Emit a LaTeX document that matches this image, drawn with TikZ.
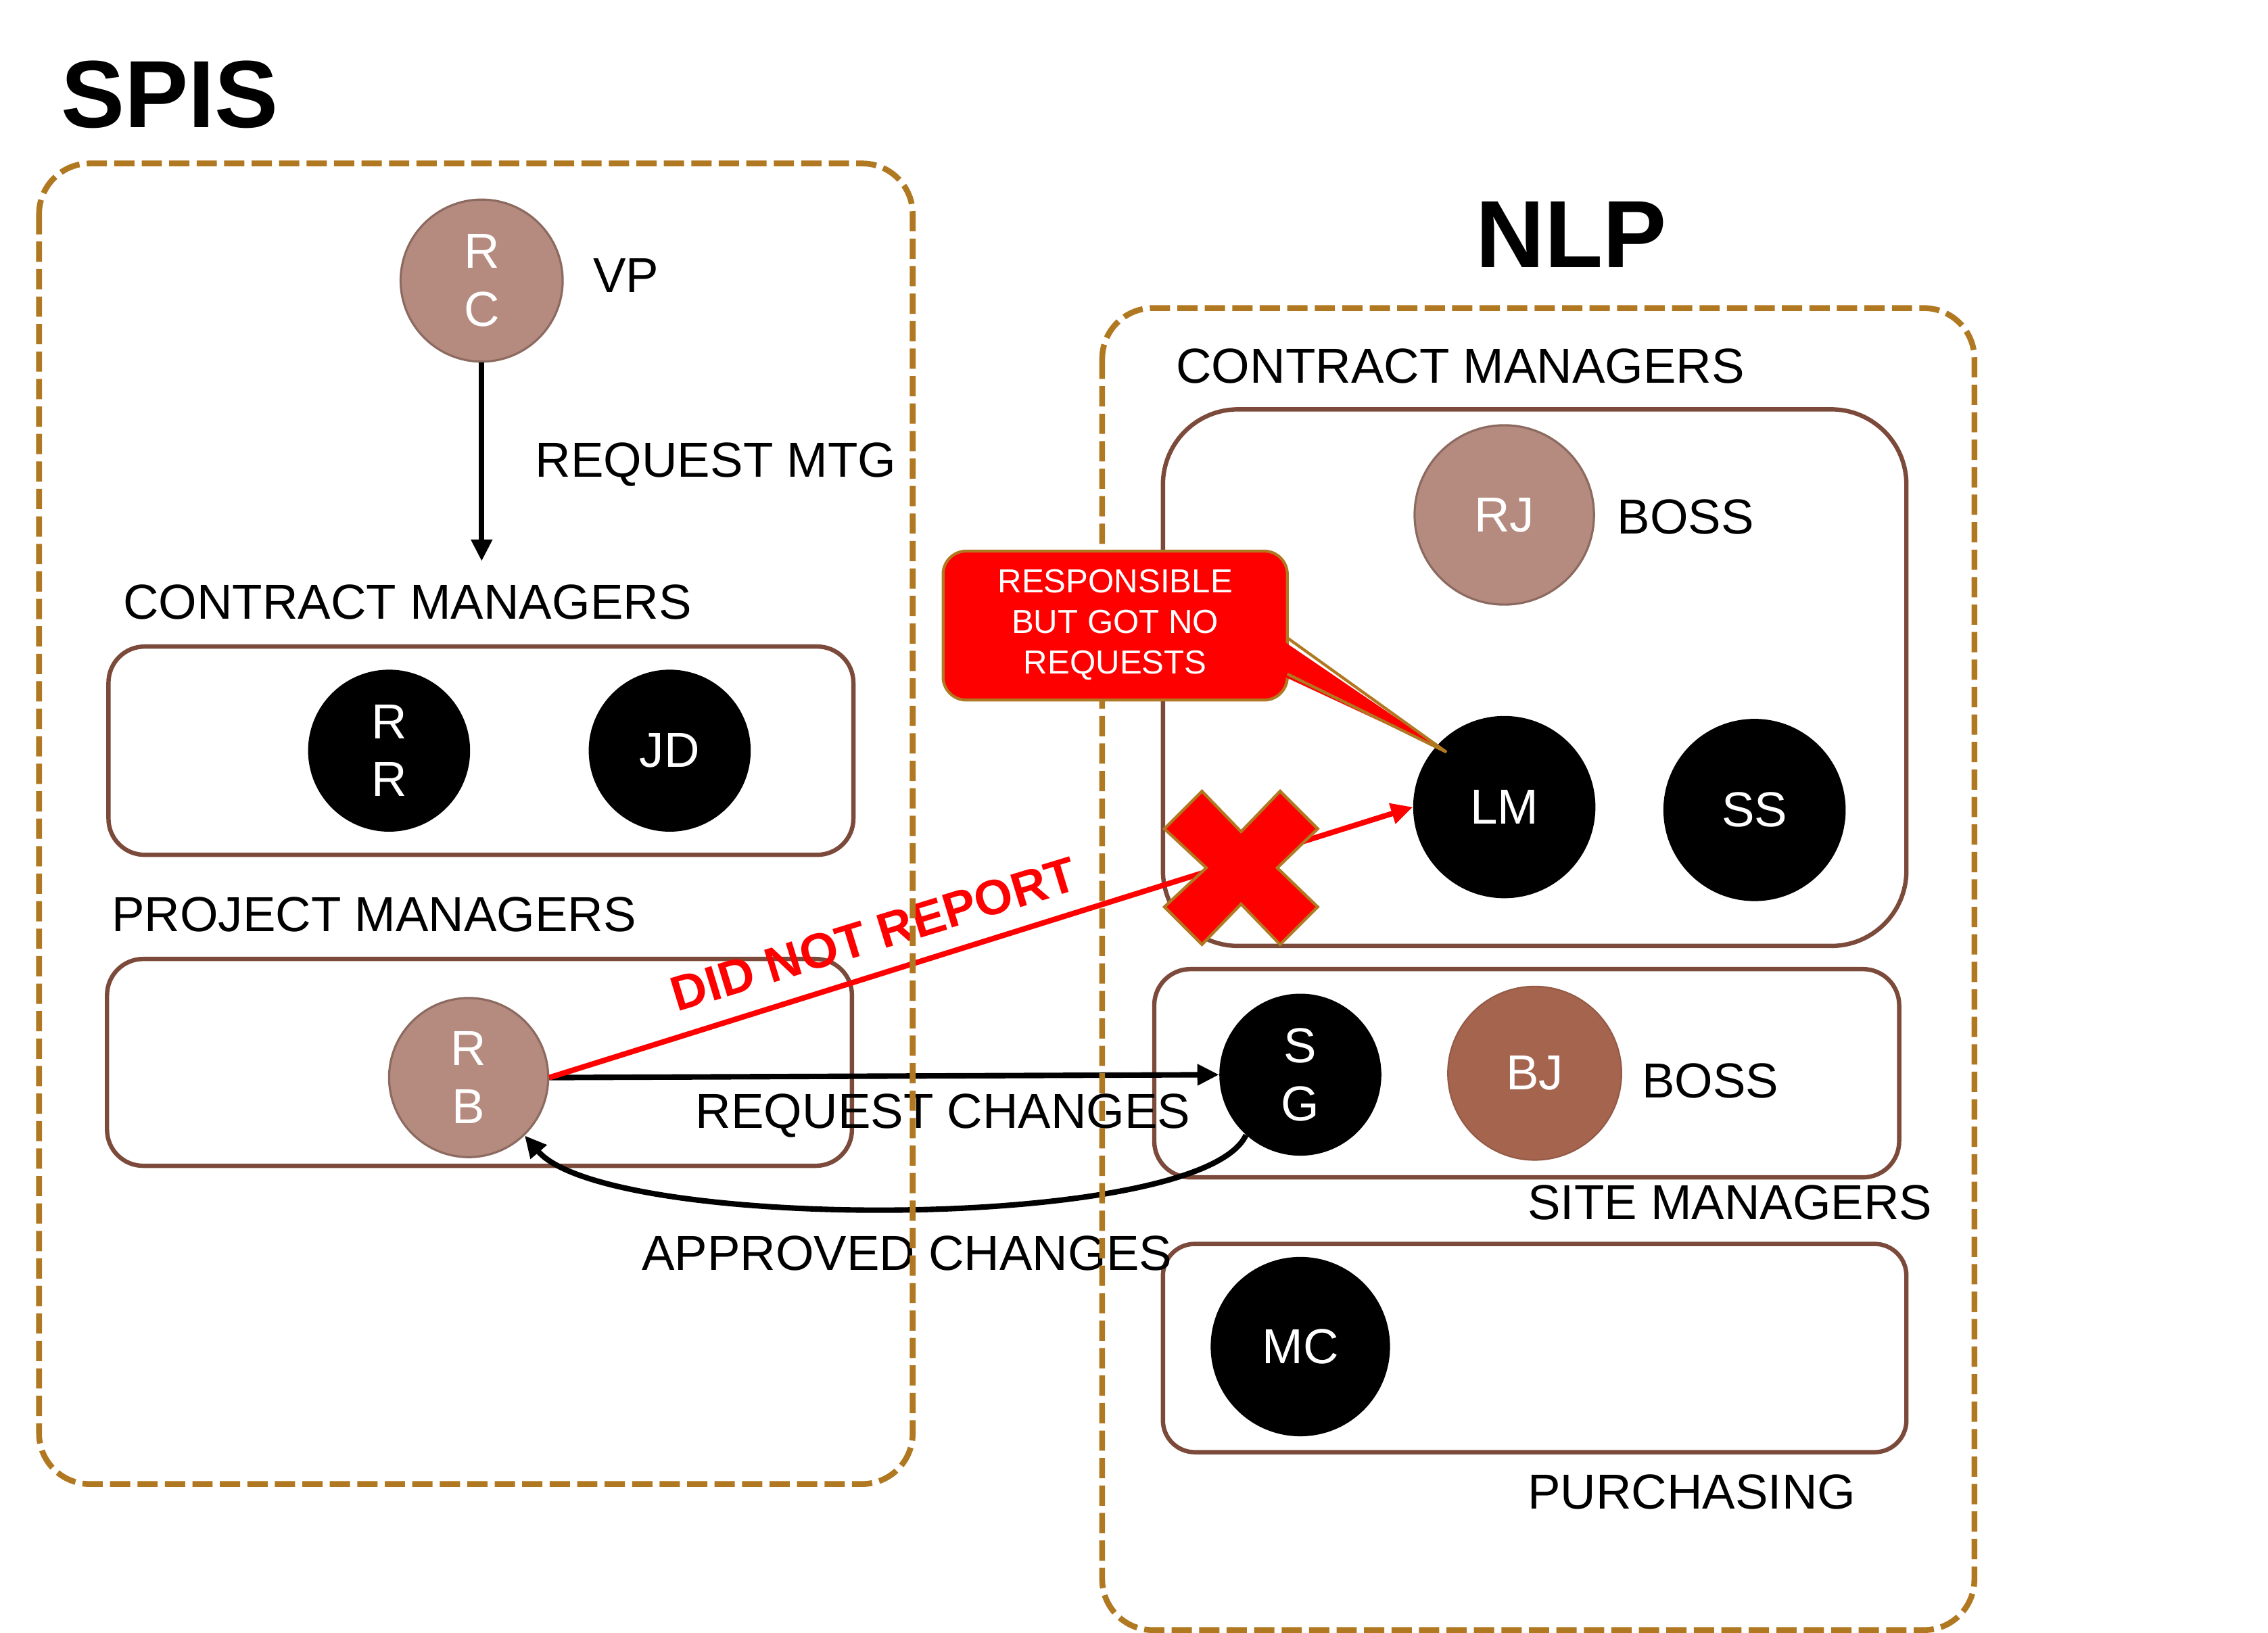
\documentclass[tikz,border=0pt]{standalone}
\usepackage{fontspec}
\setmainfont{Liberation Sans}
\usetikzlibrary{arrows.meta}
\definecolor{gold}{HTML}{B07820}
\definecolor{boxbrown}{HTML}{7B4A3A}
\definecolor{lightb}{HTML}{B58B80}
\definecolor{lightbd}{HTML}{8C6A60}
\definecolor{bjfill}{HTML}{A4644E}
\definecolor{xred}{HTML}{FF0000}
\begin{document}
\begin{tikzpicture}[x=1pt,y=-1pt,
 lbl/.style={font=\fontsize{34}{39}\selectfont, inner sep=0, anchor=base west},
 clbl/.style={font=\fontsize{34}{39}\selectfont, inner sep=0, anchor=base},
 ttl/.style={font=\fontsize{66}{70}\selectfont\bfseries, inner sep=0, anchor=base west},
 org/.style={draw=gold, line width=4, dash pattern=on 14 off 5},
 grp/.style={draw=boxbrown, line width=3},
 pers/.style={circle, inner sep=0, minimum size=#1, align=center, text=white, font=\fontsize{34}{40}\selectfont},
 blk/.style={fill=black},
 lite/.style={fill=lightb, draw=lightbd, line width=1.5},
 arr/.style={line width=3.8, -{Triangle[length=15,width=14]}},
]
\useasboundingbox (0,0) rectangle (1568,1129);
% titles
\node[ttl] (spis) at (42,88) {SPIS};
\node[ttl] (nlp) at (1020,185) {NLP};
% group boxes
\draw[grp, rounded corners=25] (75,447) rectangle (590,591);
\draw[grp, rounded corners=25] (74,663) rectangle (589,806);
\draw[grp, rounded corners=52] (804,283) rectangle (1318,654);
\draw[grp, rounded corners=25] (798,670) rectangle (1313,814);
\draw[grp, rounded corners=22] (804,860) rectangle (1318,1004);
% persons
\node[pers=112, lite] (rc) at (333,194) {R\\C};
\node[pers=112, blk] (rr) at (269,519) {R\\R};
\node[pers=112, blk] (jd) at (463,519) {JD};
\node[pers=110, lite] (rb) at (324,745) {R\\B};
\node[pers=124, lite] (rj) at (1040,356) {RJ};
\node[pers=126, blk] (lm) at (1040,558) {LM};
\node[pers=126, blk] (ss) at (1213,560) {SS};
\node[pers=112, blk] (sg) at (899,743) {S\\G};
\node[pers=120, fill=bjfill, draw=bjfill!90!black, line width=1] (bj) at (1061,742) {BJ};
\node[pers=124, blk] (mc) at (899,931) {MC};
% connectors
\coordinate (cmtop) at (333,388);
\draw[arr] (rc.south) -- (cmtop);
\draw[arr] (rb.east) -- (sg.west);
\draw[arr] (sg.-132) .. controls (830,852) and (420,852) .. (rb.-46);
\draw[arr, draw=xred, fill=xred] (rb.east) -- (lm.west);
% cross
\filldraw[fill=xred, draw=gold, line width=2]
  (858,600) ++(-27,-53) -- ++(27,28) -- ++(27,-28) -- ++(26,26) -- ++(-28,27)
  -- ++(28,27) -- ++(-26,26) -- ++(-27,-28) -- ++(-27,28) -- ++(-26,-26)
  -- ++(29,-27) -- ++(-29,-27) -- cycle;
% labels
\node[lbl] (vp) at (410,202) {VP};
\node[lbl] (rmtg) at (370,330) {REQUEST MTG};
\node[lbl] (cm1) at (85,428) {CONTRACT MANAGERS};
\node[lbl] (pm) at (77,644) {PROJECT MANAGERS};
\node[clbl] (rch) at (652,780) {REQUEST CHANGES};
\node[clbl] (ach) at (627,878) {APPROVED CHANGES};
\node[lbl] (cm2) at (813,265) {CONTRACT MANAGERS};
\node[lbl] (boss1) at (1118,369) {BOSS};
\node[lbl] (boss2) at (1135,759) {BOSS};
\node[lbl] (site) at (1056,843) {SITE MANAGERS};
\node[lbl] (purch) at (1056,1043) {PURCHASING};
\node[inner sep=0, rotate=17, text=xred, font=\fontsize{34}{39}\selectfont\bfseries] (dnr) at (604,646) {DID NOT REPORT};
% organisation boxes (drawn over lines and text, as in the original)
\draw[org, rounded corners=35] (27,113) rectangle (631,1026);
\draw[org, rounded corners=35] (762,213) rectangle (1365,1127);
% callout
\filldraw[fill=xred, draw=gold, line width=2, rounded corners=16] (652,381) rectangle (890,484);
\fill[xred] (884,441) -- (1000,520) -- (884,466) -- cycle;
\draw[gold, line width=2] (890,441) -- (1000,520) -- (890,466);
\node[inner sep=0, align=center, text=white, font=\fontsize{23}{28}\selectfont] (call) at (771,432)
  {RESPONSIBLE\\BUT GOT NO\\REQUESTS};
\end{tikzpicture}
\end{document}
